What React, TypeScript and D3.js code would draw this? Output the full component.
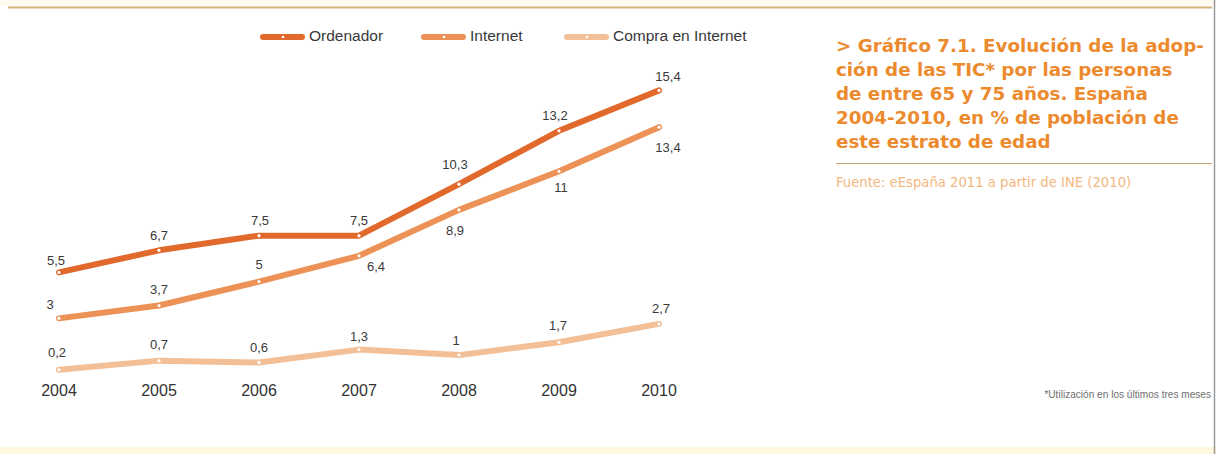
import React from "react";
import * as d3 from "d3";

const years = ["2004", "2005", "2006", "2007", "2008", "2009", "2010"];
const ordenador = [5.5, 6.7, 7.5, 7.5, 10.3, 13.2, 15.4];
const internet = [3, 3.7, 5, 6.4, 8.9, 11, 13.4];
const compra = [0.2, 0.7, 0.6, 1.3, 1, 1.7, 2.7];
const seriesNames = ["Ordenador", "Internet", "Compra en Internet"];

// label offsets (dx, dy of label centre from point)
const ordOff = [[-3, -11], [0, -14], [1, -14], [0, -14], [-4, -19], [-4, -14], [9, -13]];
const intOff = [[-9, -13], [0, -15], [0, -16], [17, 12], [-4, 22], [2, 17], [9, 21]];
const comOff = [[-2, -16], [0, -15], [0, -14], [0, -12], [-3, -14], [-1, -16], [2, -14]];

const colors = ["#e0692b", "#ec9256", "#f3bf96"];
const sans = "'Liberation Sans', Arial, Helvetica, sans-serif";
const wide = "'DejaVu Sans', Verdana, sans-serif";

export default function App() {
  const W = 1216, H = 454;
  const x = d3.scalePoint<string>().domain(years).range([59, 659]);
  const y = d3.scaleLinear().domain([0, 15.4]).range([373.5, 90.4]);
  const line = d3.line<number>().x((_, i) => x(years[i])!).y((d) => y(d)).curve(d3.curveLinear);
  const fmt = (v: number) => String(v).replace(".", ",");

  const series = [
    { name: seriesNames[0], values: ordenador, off: ordOff, color: colors[0] },
    { name: seriesNames[1], values: internet, off: intOff, color: colors[1] },
    { name: seriesNames[2], values: compra, off: comOff, color: colors[2] },
  ];
  const legendX = [263, 424, 567];
  const titleLines = [
    "> Gráfico 7.1. Evolución de la adop-",
    "ción de las TIC* por las personas",
    "de entre 65 y 75 años. España",
    "2004-2010, en % de población de",
    "este estrato de edad",
  ];

  return (
    <div style={{ position: "absolute", left: 0, top: 0 }}>
      <svg width={W} height={H} viewBox={`0 0 ${W} ${H}`} style={{ display: "block" }}>
        <rect x={0} y={0} width={W} height={H} fill="#ffffff" />
        <rect x={0} y={0} width={W} height={6} fill="#fffbef" />
        <rect x={0} y={447} width={W} height={7} fill="#fff8dc" />
        <line x1={8} x2={1212} y1={7.5} y2={7.5} stroke="#d2b27c" strokeWidth={2} />
        <line x1={1214.5} x2={1214.5} y1={0} y2={454} stroke="#9a9a9a" strokeWidth={1.5} />

        {/* legend */}
        {series.map((s, i) => (
          <g key={s.name}>
            <line x1={legendX[i]} x2={legendX[i] + 39} y1={37} y2={37} stroke={s.color} strokeWidth={6} strokeLinecap="round" />
            <circle cx={legendX[i] + 20} cy={37} r={1.3} fill="#fff" />
            <text x={legendX[i] + 46} y={37} dominantBaseline="middle" fontFamily={sans} fontSize={15.5} fill="#383838">
              {s.name}
            </text>
          </g>
        ))}

        {/* lines */}
        {series.slice().reverse().map((s) => (
          <g key={s.name}>
            <path d={line(s.values)!} fill="none" stroke={s.color} strokeWidth={6} strokeLinejoin="round" strokeLinecap="round" />
            {s.values.map((v, i) => (
              <circle key={i} cx={x(years[i])!} cy={y(v)} r={1.6} fill="#fff" />
            ))}
          </g>
        ))}

        {/* data labels */}
        {series.map((s) =>
          s.values.map((v, i) => (
            <text
              key={s.name + i}
              x={x(years[i])! + s.off[i][0]}
              y={y(v) + s.off[i][1]}
              textAnchor="middle"
              dominantBaseline="middle"
              fontFamily={sans}
              fontSize={13}
              fill="#3a3a3a"
            >
              {fmt(v)}
            </text>
          ))
        )}

        {/* x axis labels */}
        {years.map((yr) => (
          <text key={yr} x={x(yr)!} y={392} textAnchor="middle" dominantBaseline="middle" fontFamily={sans} fontSize={16} fill="#333">
            {yr}
          </text>
        ))}

        {/* title */}
        {titleLines.map((t, i) => (
          <text key={i} x={836} y={52 + i * 24} fontFamily={wide} fontWeight="bold" fontSize={18.3} fill="#ec8a2e">
            {t}
          </text>
        ))}
        <line x1={836} x2={1212} y1={163.5} y2={163.5} stroke="#c9a476" strokeWidth={1.2} />
        <text x={836} y={187} fontFamily={wide} fontSize={13.2} fill="#f4b77e">
          Fuente: eEspaña 2011 a partir de INE (2010)
        </text>
        <text x={1211} y={398} textAnchor="end" fontFamily={sans} fontSize={10.1} fill="#707070">
          *Utilización en los últimos tres meses
        </text>
      </svg>
    </div>
  );
}
